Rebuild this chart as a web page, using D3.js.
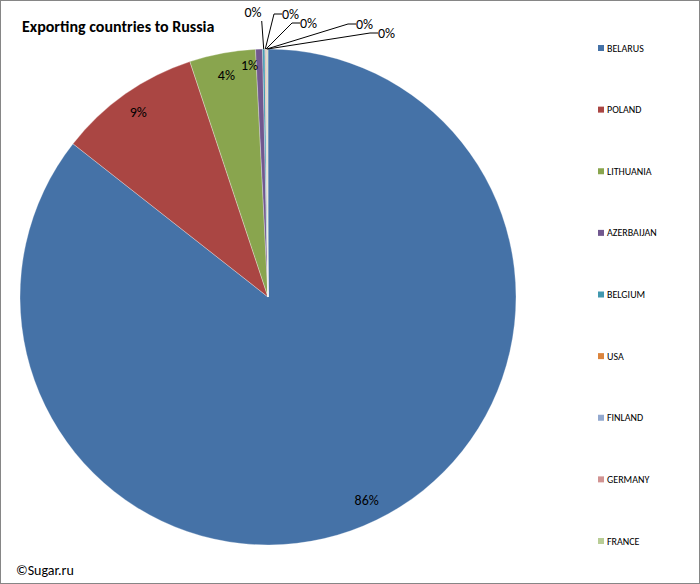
<!DOCTYPE html>
<html><head><meta charset="utf-8">
<script src="https://cdn.jsdelivr.net/npm/d3@7"></script>
<style>body{margin:0;background:#fff;font-family:Calibri,Carlito,"Liberation Sans",Arial,sans-serif}</style>
</head><body>
<svg id="c" width="700" height="584"></svg>
<script>
const countries = ["BELARUS","POLAND","LITHUANIA","AZERBAIJAN","BELGIUM","USA","FINLAND","GERMANY","FRANCE"];
const shares = [85.6, 9.3, 4.3, 0.45, 0.15, 0.05, 0.05, 0.05, 0.05];
const labels = ["86%","9%","4%","1%","0%","0%","0%","0%","0%"];
const colors = ["#4572A7","#AA4643","#89A54E","#71588F","#4198AF","#DB843D","#93A9CF","#D19392","#B9CD96"];
// label anchor for tiny slices (leader-line ends), relative to pie centre
const tinyLabelPos = [null,null,null,[-10,-227],[-15,-280],[14,-278],[32,-269],[88,-268],[110,-259]];

const svg = d3.select("#c");
svg.append("rect").attr("x",0.5).attr("y",0.5).attr("width",699).attr("height",583)
  .attr("fill","#fff").attr("stroke","#868686");

const cx = 268, cy = 297, r = 248;
const data = countries.map((c,i)=>({name:c, v:shares[i], i:i}));
const pie = d3.pie().value(d=>d.v).sort(null);
const arc = d3.arc().innerRadius(0).outerRadius(r);
const arcs = pie(data);
const g = svg.append("g").attr("transform",`translate(${cx},${cy})`);
g.selectAll("path").data(arcs).join("path")
  .attr("d",arc).attr("fill",d=>colors[d.data.i])
  .attr("stroke","#fff").attr("stroke-width",0.3);

const labArc = d3.arc().innerRadius(r*0.91).outerRadius(r*0.91);
arcs.forEach(a=>{
  const i = a.data.i;
  if (!tinyLabelPos[i]) {
    const [x,y] = labArc.centroid(a);
    g.append("text").attr("x",x).attr("y",y).attr("dy","0.35em")
      .attr("text-anchor","middle").attr("font-size",14).text(labels[i]);
    return;
  }
  const m = (a.startAngle+a.endAngle)/2;
  const ex = Math.sin(m)*r, ey = -Math.cos(m)*r;
  const [lx,ly] = tinyLabelPos[i];
  const t = g.append("text").attr("x",lx).attr("y",ly).attr("font-size",14).text(labels[i]);
  if (i===3) { t.attr("text-anchor","end"); return; }
  if (i===4) {
    t.attr("text-anchor","middle");
    g.append("path").attr("d",`M${ex},${ey}L${ex-2},${ly+4}`).attr("stroke","#000").attr("fill","none");
    return;
  }
  g.append("path").attr("d",`M${ex},${ey}L${lx-8},${ly-5}L${lx},${ly-5}`)
    .attr("stroke","#000").attr("fill","none");
});

svg.append("text").attr("x",22).attr("y",32).attr("font-size",16).attr("font-weight","bold")
  .text("Exporting countries to Russia");
svg.append("text").attr("x",16).attr("y",575).attr("font-size",14).text("\u00A9Sugar.ru");

const ly = d3.scalePoint().domain(countries).range([48,541]);
const leg = svg.append("g").selectAll("g").data(countries).join("g")
  .attr("transform",d=>`translate(598,${ly(d)})`);
leg.append("rect").attr("x",0).attr("y",-3).attr("width",6).attr("height",6)
  .attr("fill",(d,i)=>colors[i]);
leg.append("text").attr("x",9).attr("dy","0.35em").attr("font-size",10).text(d=>d);
</script>
</body></html>
